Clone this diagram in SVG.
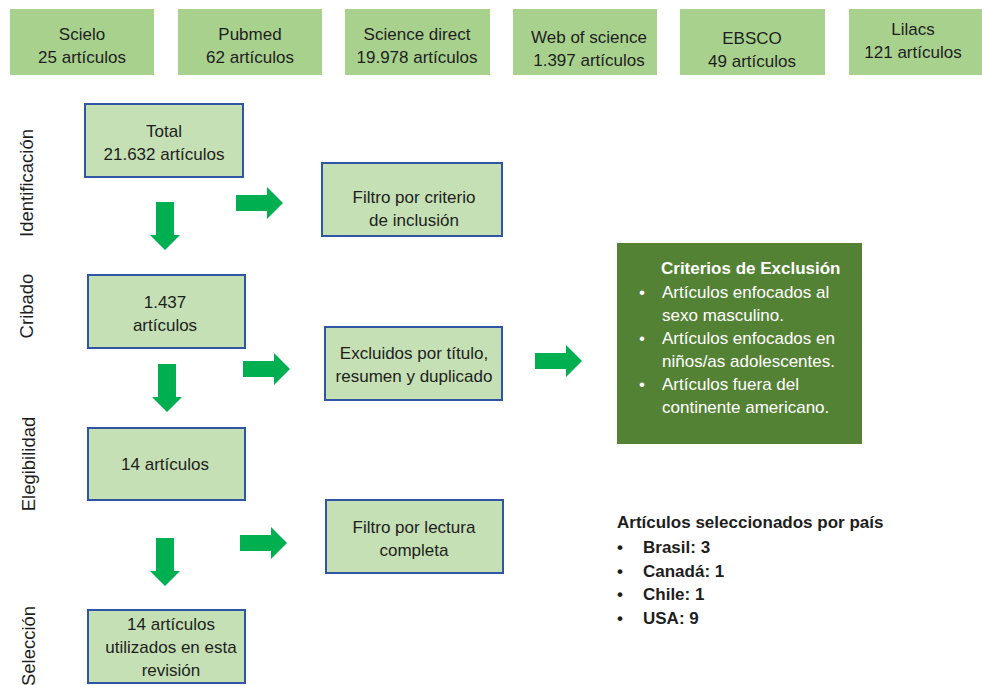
<svg xmlns="http://www.w3.org/2000/svg" width="982" height="685" viewBox="0 0 982 685">
<style>
text{font-family:"Liberation Sans",Arial,sans-serif;font-size:17px;fill:#1e1e1e}
.c{text-anchor:middle}
.src{fill:#a9d18e}
.box{fill:#c5e0b4;stroke:#2f55a4;stroke-width:2}
.arr{fill:#00b050}
.w{fill:#ffffff}
.b{font-weight:bold}
.side{text-anchor:middle;font-size:18.5px}
</style>
<defs>
<path id="da" d="M-9,0 H9 V33 H15 L0,48 L-15,33 H-9 Z"/>
<path id="ra" d="M0,-8 H31 V-16 L47,0 L31,16 V8 H0 Z"/>
</defs>
<rect width="982" height="685" fill="#ffffff"/>
<g id="scielo"><rect class="src" x="10" y="9" width="144" height="66"/><text class="c" x="82" y="40">Scielo</text><text class="c" x="82" y="63">25 artículos</text></g>
<g id="pubmed"><rect class="src" x="178" y="9" width="144" height="66"/><text class="c" x="250" y="40">Pubmed</text><text class="c" x="250" y="63">62 artículos</text></g>
<g id="sciencedirect"><rect class="src" x="345" y="9" width="145" height="66"/><text class="c" x="417" y="40">Science direct</text><text class="c" x="417" y="63">19.978 artículos</text></g>
<g id="wos"><rect class="src" x="513" y="9" width="144" height="66"/><text class="c" x="589" y="43">Web of science</text><text class="c" x="589" y="66">1.397 artículos</text></g>
<g id="ebsco"><rect class="src" x="680" y="9" width="145" height="66"/><text class="c" x="752" y="44">EBSCO</text><text class="c" x="752" y="67">49 artículos</text></g>
<g id="lilacs"><rect class="src" x="849" y="9" width="140" height="66"/><text class="c" x="913" y="35">Lilacs</text><text class="c" x="913" y="58">121 artículos</text></g>

<g id="lbl-ident"><text class="side" transform="translate(33,183) rotate(-90)">Identificación</text></g>
<g id="lbl-crib"><text class="side" transform="translate(33,306) rotate(-90)">Cribado</text></g>
<g id="lbl-eleg"><text class="side" transform="translate(35,464) rotate(-90)">Elegibilidad</text></g>
<g id="lbl-sel"><text class="side" transform="translate(35,646) rotate(-90)">Selección</text></g>

<g id="total"><rect class="box" x="85" y="104" width="158" height="73"/><text class="c" x="164" y="137">Total</text><text class="c" x="164" y="160">21.632 artículos</text></g>
<g id="filtro-inclusion"><rect class="box" x="322" y="163" width="180" height="73"/><text class="c" x="414" y="203">Filtro por criterio</text><text class="c" x="414" y="226">de inclusión</text></g>
<g id="cribado"><rect class="box" x="88" y="275" width="157" height="73"/><text class="c" x="165" y="308">1.437</text><text class="c" x="165" y="331">artículos</text></g>
<g id="excluidos"><rect class="box" x="325" y="327" width="177" height="73"/><text class="c" x="414" y="359">Excluidos por título,</text><text class="c" x="414" y="382">resumen y duplicado</text></g>
<g id="eleg"><rect class="box" x="88" y="428" width="157" height="72"/><text class="c" x="165" y="470">14 artículos</text></g>
<g id="filtro-lectura"><rect class="box" x="326" y="500" width="177" height="73"/><text class="c" x="414" y="533">Filtro por lectura</text><text class="c" x="414" y="556">completa</text></g>
<g id="seleccion"><rect class="box" x="88" y="610" width="157" height="73"/><text class="c" x="171" y="630">14 artículos</text><text class="c" x="171" y="653">utilizados en esta</text><text class="c" x="171" y="676">revisión</text></g>

<g id="exclusion"><rect x="617" y="243" width="245" height="201" fill="#548235"/>
<text class="w b" x="661" y="274">Criterios de Exclusión</text>
<text class="w" x="639" y="298">•</text><text class="w" x="662" y="298">Artículos enfocados al</text>
<text class="w" x="662" y="321">sexo masculino.</text>
<text class="w" x="639" y="344">•</text><text class="w" x="662" y="344">Artículos enfocados en</text>
<text class="w" x="662" y="367">niños/as adolescentes.</text>
<text class="w" x="639" y="390">•</text><text class="w" x="662" y="390">Artículos fuera del</text>
<text class="w" x="662" y="413">continente americano.</text>
</g>

<g id="paises">
<text class="b" x="617" y="528">Artículos seleccionados por país</text>
<text class="b" x="617" y="553">•</text><text class="b" x="643" y="553">Brasil: 3</text>
<text class="b" x="617" y="577">•</text><text class="b" x="643" y="577">Canadá: 1</text>
<text class="b" x="617" y="600">•</text><text class="b" x="643" y="600">Chile: 1</text>
<text class="b" x="617" y="624">•</text><text class="b" x="643" y="624">USA: 9</text>
</g>

<g id="connectors">
<use href="#da" class="arr" x="165" y="202"/>
<use href="#da" class="arr" x="167" y="364"/>
<use href="#da" class="arr" x="165" y="538"/>
<use href="#ra" class="arr" x="236" y="203"/>
<use href="#ra" class="arr" x="243" y="369"/>
<use href="#ra" class="arr" x="240" y="543"/>
<use href="#ra" class="arr" x="535" y="361"/>
</g>
</svg>
